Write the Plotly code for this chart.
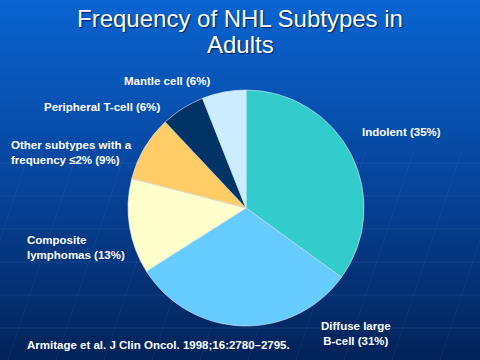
import plotly.graph_objects as go

labels = ["Indolent", "Diffuse large B-cell", "Composite lymphomas",
          "Other subtypes with a frequency ≤2%", "Peripheral T-cell", "Mantle cell"]
values = [35, 31, 13, 9, 6, 6]
colors = ["#33CCCC", "#66CCFF", "#FFFFCC", "#FFCC66", "#003366", "#CCECFF"]

title_lines = ["Frequency of NHL Subtypes in", "Adults"]
label_texts = [
    "Indolent (35%)",
    "Diffuse large<br>B-cell (31%)",
    "Composite<br>lymphomas (13%)",
    "Other subtypes with a<br>frequency ≤2% (9%)",
    "Peripheral T-cell (6%)",
    "Mantle cell (6%)",
]
citation = "Armitage et al. J Clin Oncol. 1998;16:2780–2795."

W, H = 480, 360

fig = go.Figure(go.Pie(
    labels=labels, values=values, sort=False, direction="clockwise", rotation=0,
    marker=dict(colors=colors, line=dict(color="#d8ecf8", width=0.6)),
    textinfo="none", hoverinfo="label+percent", showlegend=False,
    domain=dict(x=[(246 - 118) / W, (246 + 118) / W], y=[(152 - 118) / H, (152 + 118) / H]),
))

# background gradient
shapes = []
n = 72
top = (10, 100, 208)
mid = (8, 72, 162)
bot = (3, 36, 90)
for i in range(n):
    t = i / (n - 1)
    if t < 0.45:
        u = t / 0.45
        c = tuple(int(top[k] + (mid[k] - top[k]) * u) for k in range(3))
    else:
        u = (t - 0.45) / 0.55
        c = tuple(int(mid[k] + (bot[k] - mid[k]) * u) for k in range(3))
    y1 = 1 - i / n
    y0 = 1 - (i + 1) / n - 0.002
    shapes.append(dict(type="rect", xref="paper", yref="paper", x0=0, x1=1, y0=y0, y1=y1,
                       fillcolor="rgb(%d,%d,%d)" % c, line=dict(width=0), layer="below"))

# faint background grid texture
for yy in [163, 196, 229, 262, 295, 328]:
    shapes.append(dict(type="line", xref="paper", yref="paper", x0=0, x1=1,
                       y0=1 - yy / H, y1=1 - yy / H,
                       line=dict(color="rgba(120,170,235,0.14)", width=1), layer="below"))
for xb in range(-40, 480, 48):
    shapes.append(dict(type="line", xref="paper", yref="paper",
                       x0=xb / W, x1=(xb + 70) / W, y0=0, y1=1 - 150 / H,
                       line=dict(color="rgba(120,170,235,0.07)", width=1), layer="below"))

lab_font = dict(family="Liberation Sans, Arial, sans-serif", size=11.5, color="white", weight="bold")

def px(x, y):
    return x / W, 1 - y / H

anns = []
# title
for txt, yy in zip(title_lines, [18, 44]):
    x, y = px(240, yy)
    anns.append(dict(text=txt, x=x, y=y, xref="paper", yref="paper", showarrow=False,
                     xanchor="center", yanchor="middle",
                     font=dict(family="Liberation Sans, Arial, sans-serif", size=24, color="white",
                               shadow="1px 1px 1px #00205a")))

# slice labels: (text index, x, y, xanchor, align)
pos = [
    (0, 360, 132, "left", "left"),
    (1, 356, 333, "center", "center"),
    (2, 25, 247, "left", "left"),
    (3, 9, 152, "left", "left"),
    (4, 42, 107, "left", "left"),
    (5, 122, 81, "left", "left"),
]
for idx, x0, y0, xa, al in pos:
    x, y = px(x0, y0)
    anns.append(dict(text=label_texts[idx], x=x, y=y, xref="paper", yref="paper", showarrow=False,
                     xanchor=xa, yanchor="middle", align=al, font=lab_font))

x, y = px(25, 345)
anns.append(dict(text=citation, x=x, y=y, xref="paper", yref="paper", showarrow=False,
                 xanchor="left", yanchor="middle", font=lab_font))

fig.update_layout(
    width=W, height=H, margin=dict(l=0, r=0, t=0, b=0),
    paper_bgcolor="#0a4aa8", plot_bgcolor="rgba(0,0,0,0)",
    shapes=shapes, annotations=anns,
)

fig.write_html("out.html", config={"displayModeBar": False},
               post_script="document.body.style.margin='0';document.body.style.padding='0';")
